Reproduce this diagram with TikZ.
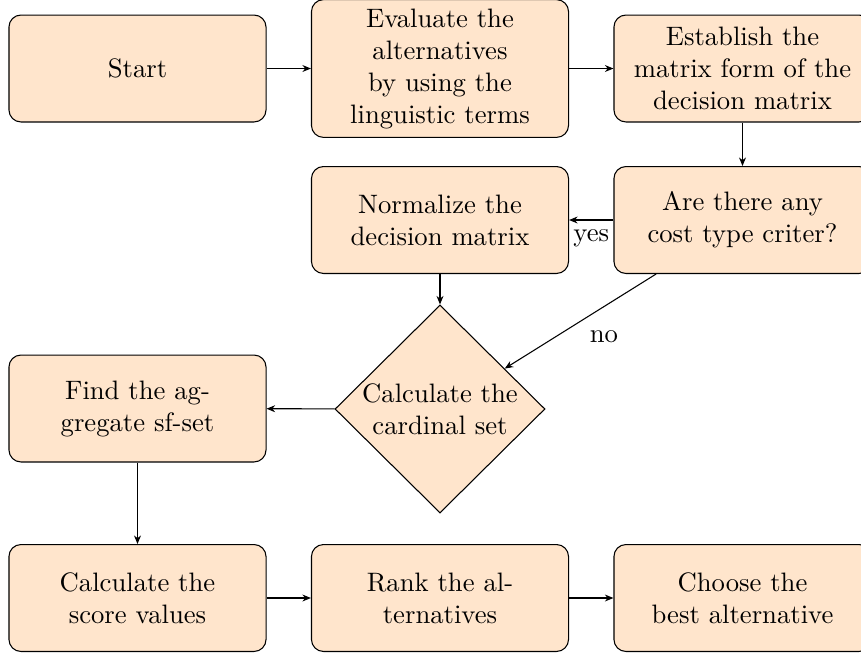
\documentclass[tikz,border=0pt]{standalone}
\usetikzlibrary{shapes.geometric,arrows.meta}
\begin{document}
\begin{tikzpicture}[x=0.375pt,y=-0.375pt,
  box/.style={draw, fill=orange!20, rounded corners=4.5pt, minimum width=96.4pt, minimum height=40.1pt, align=center},
  dia/.style={draw, fill=orange!20, shape=diamond, minimum width=78.75pt, minimum height=78pt, inner sep=0pt, align=center},
  arr/.style={-{Stealth[length=3.2pt,width=2.6pt]}}]
\useasboundingbox (0,0) rectangle (861,655);
\node[box] (start) at (137.5,68.5) {Start};
\node[box] (eval) at (440,68.5) {Evaluate the\\alternatives\\by using the\\linguistic terms};
\node[box] (est) at (742.5,68.5) {Establish the\\matrix form of the\\decision matrix};
\node[box] (cost) at (742.5,220) {Are there any\\cost type criter?};
\node[box] (norm) at (440,220) {Normalize the\\decision matrix};
\node[dia] (card) at (440,409) {Calculate the\\cardinal set};
\node[box] (find) at (137.5,408.5) {Find the ag-\\gregate sf-set};
\node[box] (score) at (137.5,598) {Calculate the\\score values};
\node[box] (rank) at (440,598) {Rank the al-\\ternatives};
\node[box] (best) at (742.5,598) {Choose the\\best alternative};
\draw[arr] (start) -- (eval);
\draw[arr] (eval) -- (est);
\draw[arr] (est) -- (cost);
\draw[arr] (cost) -- node[below]{yes} (norm);
\draw[arr] (cost) -- node[below right]{no} (card);
\draw[arr] (norm) -- (card);
\draw[arr] (card) -- (find);
\draw[arr] (find) -- (score);
\draw[arr] (score) -- (rank);
\draw[arr] (rank) -- (best);
\end{tikzpicture}
\end{document}
